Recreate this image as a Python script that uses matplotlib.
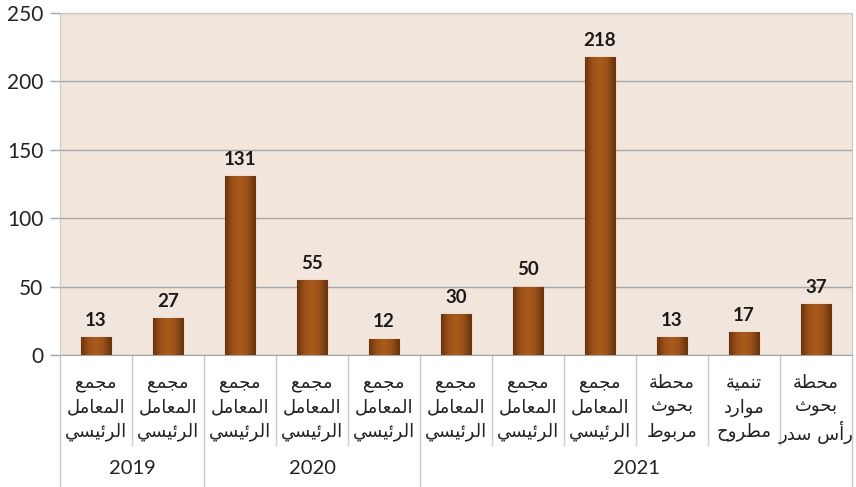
import matplotlib.pyplot as plt
import matplotlib.transforms as mtransforms
from matplotlib.colors import LinearSegmentedColormap
import numpy as np

# data
values = [13, 27, 131, 55, 12, 30, 50, 218, 13, 17, 37]
labels = [
    ["مجمع", "المعامل", "الرئيسي"],
    ["مجمع", "المعامل", "الرئيسي"],
    ["مجمع", "المعامل", "الرئيسي"],
    ["مجمع", "المعامل", "الرئيسي"],
    ["مجمع", "المعامل", "الرئيسي"],
    ["مجمع", "المعامل", "الرئيسي"],
    ["مجمع", "المعامل", "الرئيسي"],
    ["مجمع", "المعامل", "الرئيسي"],
    ["محطة", "بحوث", "مربوط"],
    ["تنمية", "موارد", "مطروح"],
    ["محطة", "بحوث", "رأس سدر"],
]
years = ["2019", "2020", "2021"]
year_sizes = [2, 3, 6]
y_ticks = [0, 50, 100, 150, 200, 250]

# minimal arabic shaping (matplotlib draws glyphs left to right, no joining)
# forms: isolated, final, initial, medial
FORMS = {
    "ا": ("\uFE8D", "\uFE8E", None, None),
    "أ": ("\uFE83", "\uFE84", None, None),
    "ب": ("\uFE8F", "\uFE90", "\uFE91", "\uFE92"),
    "ة": ("\uFE93", "\uFE94", None, None),
    "ت": ("\uFE95", "\uFE96", "\uFE97", "\uFE98"),
    "ث": ("\uFE99", "\uFE9A", "\uFE9B", "\uFE9C"),
    "ج": ("\uFE9D", "\uFE9E", "\uFE9F", "\uFEA0"),
    "ح": ("\uFEA1", "\uFEA2", "\uFEA3", "\uFEA4"),
    "د": ("\uFEA9", "\uFEAA", None, None),
    "ر": ("\uFEAD", "\uFEAE", None, None),
    "س": ("\uFEB1", "\uFEB2", "\uFEB3", "\uFEB4"),
    "ط": ("\uFEC1", "\uFEC2", "\uFEC3", "\uFEC4"),
    "ع": ("\uFEC9", "\uFECA", "\uFECB", "\uFECC"),
    "ل": ("\uFEDD", "\uFEDE", "\uFEDF", "\uFEE0"),
    "م": ("\uFEE1", "\uFEE2", "\uFEE3", "\uFEE4"),
    "ن": ("\uFEE5", "\uFEE6", "\uFEE7", "\uFEE8"),
    "و": ("\uFEED", "\uFEEE", None, None),
    "ي": ("\uFEF1", "\uFEF2", "\uFEF3", "\uFEF4"),
    "ئ": ("\uFE89", "\uFE8A", "\uFE8B", "\uFE8C"),
}


def shape(text):
    out = []
    for i, c in enumerate(text):
        f = FORMS.get(c)
        if f is None:
            out.append(c)
            continue
        prev = text[i - 1] if i > 0 else None
        nxt = text[i + 1] if i + 1 < len(text) else None
        join_prev = prev in FORMS and FORMS[prev][2] is not None
        join_next = nxt in FORMS and f[2] is not None
        if join_prev and join_next:
            out.append(f[3])
        elif join_prev:
            out.append(f[1])
        elif join_next:
            out.append(f[2])
        else:
            out.append(f[0])
    return "".join(out)[::-1]


plt.rcParams["font.family"] = ["Lato", "DejaVu Sans"]

fig = plt.figure(figsize=(8.56, 4.87), dpi=100)
ax = fig.add_axes([60 / 856, (487 - 355) / 487, (852 - 60) / 856, 342 / 487])
ax.set_facecolor("#f2e6dc")

x = np.arange(len(values))
bars = ax.bar(x, values, width=0.41, color="#9c5217", edgecolor="#6a340e",
              linewidth=0.8, zorder=3)

# horizontal gradient on each bar to give the rounded look
grad = np.concatenate([np.linspace(0, 1, 50), np.linspace(1, 0, 50)])[None, :]
cmap = LinearSegmentedColormap.from_list("bar", ["#6a340e", "#9a5018", "#ab5c1e"])
for b in bars:
    im = ax.imshow(grad, cmap=cmap, aspect="auto", zorder=4,
                   extent=[b.get_x(), b.get_x() + b.get_width(), 0, b.get_height()])
    im.set_clip_path(b)
    ax.text(b.get_x() + b.get_width() / 2, b.get_height() + 6, str(int(b.get_height())),
            ha="center", va="bottom", fontsize=13.5, fontweight="bold", color="#1a1a1a")

ax.set_xlim(-0.5, len(values) - 0.5)
ax.set_ylim(0, 250)
ax.set_yticks(y_ticks)
ax.tick_params(axis="y", labelsize=15, length=7, width=1, color="#a6a6a6",
               pad=5, labelcolor="#222222")
ax.set_xticks([])
ax.grid(axis="y", color="#a6a6a6", linewidth=1, zorder=1)
for s in ax.spines.values():
    s.set_color("#c8c8c8")
ax.spines["bottom"].set_color("#a6a6a6")

# category table below the axis
trans = mtransforms.blended_transform_factory(ax.transData, ax.transAxes)
px = 1 / 342  # one pixel in axes fraction
for i, lines in enumerate(labels):
    for j, line in enumerate(lines):
        ax.text(i, -(28 + 24.5 * j) * px, shape(line), transform=trans,
                ha="center", va="center", fontsize=13, color="#222222",
                family=["DejaVu Sans"])

bounds = np.cumsum([0] + year_sizes) - 0.5
for k in range(len(values) + 1):
    xb = k - 0.5
    bottom = -132 * px if xb in bounds else -90 * px
    ax.plot([xb, xb], [0, bottom], transform=trans, color="#c8c8c8",
            linewidth=1, clip_on=False)

for k, yr in enumerate(years):
    xc = (bounds[k] + bounds[k + 1]) / 2
    ax.text(xc, -114 * px, yr, transform=trans, ha="center", va="center",
            fontsize=14.5, color="#222222")

fig.savefig("out.png", dpi=100)
